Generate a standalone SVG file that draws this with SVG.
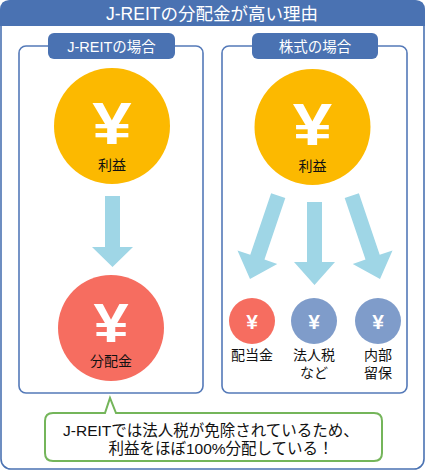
<svg xmlns="http://www.w3.org/2000/svg" width="425" height="470" viewBox="0 0 425 470">
<style>
.t{font-family:"Liberation Sans","Noto Sans CJK JP",sans-serif;}
.hdr{fill:#ffffff;font-size:17.5px;}
.tab{fill:#ffffff;font-size:14.5px;}
.lbl{fill:#111111;font-size:14px;}
.yen{fill:#ffffff;font-weight:bold;font-family:"Liberation Sans",sans-serif;}
.panel{fill:#ffffff;stroke:#5479b8;stroke-width:1.6;}
.tabbg{fill:#4a72b2;}
.arrow{fill:#9fd6e6;}
.note{fill:#111111;font-size:15.5px;}
</style>
<defs>
<path id="ar" d="M-7.5,-88 H7.5 V-23 H21 L0,0 L-21,-23 H-7.5 Z"/>
</defs>
<rect x="1" y="1" width="423" height="468" rx="10" fill="#ffffff" stroke="#4a72b2" stroke-width="1.6"/>
<path d="M0,26 V10 Q0,0 10,0 H415 Q425,0 425,10 V26 Z" fill="#4a72b2"/>
<text class="t hdr" x="212" y="19.5" text-anchor="middle">J-REITの分配金が高い理由</text>

<g id="left-panel">
<rect class="panel" x="19" y="46" width="184" height="347" rx="7"/>
<rect class="tabbg" x="48" y="33" width="127" height="26" rx="6"/>
<text class="t tab" x="111.5" y="51.5" text-anchor="middle">J-REITの場合</text>
</g>
<g id="right-panel">
<rect class="panel" x="222" y="46" width="185" height="347" rx="7"/>
<rect class="tabbg" x="252" y="33" width="126" height="26" rx="6"/>
<text class="t tab" x="315" y="51.5" text-anchor="middle">株式の場合</text>
</g>

<g id="connectors">
<path class="arrow" d="M105,196 H120 V247 H133 L112.5,267 L92,247 H105 Z"/>
<use href="#ar" class="arrow" transform="translate(250,279) rotate(18.7)"/>
<path class="arrow" d="M307,202 H322 V262 H335 L314.5,285 L294,262 H307 Z"/>
<use href="#ar" class="arrow" transform="translate(380,279) rotate(-18.7)"/>
</g>

<g id="left-profit">
<circle cx="112" cy="126" r="58" fill="#fcb900"/>
<text class="yen" x="112" y="144" font-size="60" text-anchor="middle" transform="translate(112 0) scale(1.18 1) translate(-112 0)">¥</text>
<text class="t lbl" x="112" y="170" text-anchor="middle" font-size="15">利益</text>
</g>
<g id="left-dividend">
<circle cx="111" cy="328" r="53" fill="#f66d60"/>
<text class="yen" x="111" y="342" font-size="55" text-anchor="middle" transform="translate(111 0) scale(1.15 1) translate(-111 0)">¥</text>
<text class="t lbl" x="111" y="366" text-anchor="middle" font-size="15">分配金</text>
</g>

<g id="right-profit">
<circle cx="312.5" cy="127" r="58" fill="#fcb900"/>
<text class="yen" x="312.5" y="145" font-size="60" text-anchor="middle" transform="translate(312.5 0) scale(1.18 1) translate(-312.5 0)">¥</text>
<text class="t lbl" x="312.5" y="171" text-anchor="middle" font-size="15">利益</text>
</g>

<g id="dividend">
<circle cx="252" cy="321" r="23" fill="#f66d60"/>
<text class="yen" x="252" y="328.5" font-size="21" text-anchor="middle">¥</text>
<text class="t lbl" x="252" y="360" text-anchor="middle">配当金</text>
</g>
<g id="tax">
<circle cx="314" cy="321" r="23" fill="#7f9cca"/>
<text class="yen" x="314" y="328.5" font-size="21" text-anchor="middle">¥</text>
<text class="t lbl" x="314" y="360" text-anchor="middle">法人税</text>
<text class="t lbl" x="314" y="378" text-anchor="middle">など</text>
</g>
<g id="retained">
<circle cx="378" cy="321" r="23" fill="#7f9cca"/>
<text class="yen" x="378" y="328.5" font-size="21" text-anchor="middle">¥</text>
<text class="t lbl" x="378" y="360" text-anchor="middle">内部</text>
<text class="t lbl" x="378" y="378" text-anchor="middle">留保</text>
</g>

<g id="callout">
<path d="M53,413 H105 L110,398 L116,413 H374 Q382,413 382,421 V453 Q382,461 374,461 H53 Q45,461 45,453 V421 Q45,413 53,413 Z" fill="#ffffff" stroke="#74b55a" stroke-width="2"/>
<text class="t note" x="211" y="435.5" text-anchor="middle">J-REITでは法人税が免除されているため、</text>
<text class="t note" x="221" y="453.5" text-anchor="middle">利益をほぼ100%分配している！</text>
</g>
</svg>
